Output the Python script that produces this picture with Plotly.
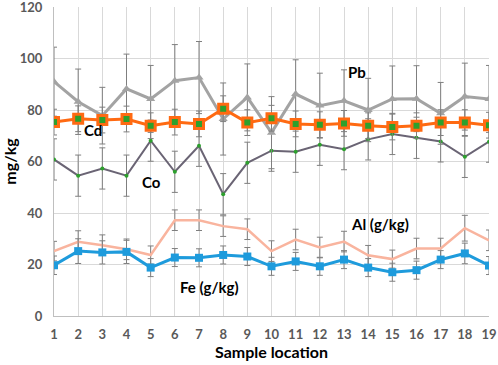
import plotly.graph_objects as go

locations = list(range(1, 20))
pb = [91.0, 83.2, 77.8, 88.2, 84.3, 91.4, 92.6, 76.5, 84.9, 71.2, 86.2, 81.7, 83.6, 80.0, 84.3, 84.4, 78.7, 85.2, 84.3]
pb_err = [13.4, 12.7, 11.0, 13.5, 13.0, 14.0, 14.0, 14.0, 13.0, 14.0, 13.3, 12.6, 12.0, 12.3, 12.8, 12.8, 12.0, 13.0, 13.0]
cd = [75.3, 76.6, 76.1, 76.5, 73.9, 75.3, 74.6, 80.5, 75.1, 76.8, 74.6, 74.3, 74.8, 73.9, 73.4, 73.9, 75.1, 75.1, 74.1]
cd_err = [5.0] * 19
co = [60.8, 54.5, 57.3, 54.5, 68.1, 56.0, 66.1, 47.3, 59.5, 64.2, 63.8, 66.5, 64.8, 68.6, 70.7, 69.2, 67.8, 61.8, 67.7]
co_err = [8.0] * 19
al = [25.2, 28.8, 27.5, 25.9, 23.7, 37.2, 37.2, 34.9, 33.7, 25.2, 29.7, 26.6, 28.9, 23.6, 22.1, 26.2, 26.2, 34.1, 29.4]
al_err = [3.8, 4.3, 4.0, 4.0, 3.5, 4.0, 4.0, 4.0, 4.0, 4.0, 4.0, 4.0, 4.0, 3.8, 3.5, 4.0, 4.0, 5.0, 4.0]
fe = [19.7, 25.2, 24.7, 24.9, 18.8, 22.7, 22.6, 23.7, 23.1, 19.3, 21.2, 19.3, 21.9, 18.8, 17.0, 17.8, 21.9, 24.3, 19.6]
fe_err = [3.6, 4.8, 4.5, 4.5, 3.5, 3.5, 3.5, 3.5, 3.5, 3.5, 3.5, 3.5, 3.5, 3.5, 3.5, 3.5, 3.5, 4.0, 3.5]
y_ticks = [0, 20, 40, 60, 80, 100, 120]

ERR = dict(type="data", visible=True, color="#7F7F7F", thickness=1, width=3)
FONT = "Lato, Open Sans, Liberation Sans, sans-serif"

fig = go.Figure()
fig.add_trace(go.Scatter(x=locations, y=al, mode="lines",
                         line=dict(color="#F9B49E", width=2.5),
                         error_y=dict(array=al_err, **ERR)))
fig.add_trace(go.Scatter(x=locations, y=fe, mode="lines+markers",
                         line=dict(color="#1E9BDC", width=3),
                         marker=dict(symbol="square", size=8, color="#1E9BDC"),
                         error_y=dict(array=fe_err, **ERR)))
fig.add_trace(go.Scatter(x=locations, y=co, mode="lines+markers",
                         line=dict(color="#6A6474", width=2),
                         marker=dict(symbol="circle", size=4, color="#2DA02D"),
                         error_y=dict(array=co_err, **ERR)))
fig.add_trace(go.Scatter(x=locations, y=pb, mode="lines+markers",
                         line=dict(color="#A3A3A3", width=3),
                         marker=dict(symbol="triangle-up", size=8, color="#A3A3A3"),
                         error_y=dict(array=pb_err, **ERR)))
fig.add_trace(go.Scatter(x=locations, y=cd, mode="lines+markers",
                         line=dict(color="#FF6A12", width=3),
                         marker=dict(symbol="square", size=9, color="#2DA02D",
                                     line=dict(color="#FF6A12", width=3)),
                         error_y=dict(array=cd_err, **ERR)))

lab_font = dict(family=FONT, size=15, color="black")
for txt, x, y in [("Pb", 13.55, 94.9), ("Cd", 2.6, 72.2), ("Co", 5.05, 51.9),
                  ("Al (g/kg)", 14.5, 35.9), ("Fe (g/kg)", 7.42, 11.3)]:
    fig.add_annotation(x=x, y=y, text=f"<b>{txt}</b>", showarrow=False, font=lab_font)

fig.update_layout(
    width=498, height=365,
    margin=dict(l=54, r=9, t=7, b=49),
    paper_bgcolor="white", plot_bgcolor="white",
    showlegend=False,
    font=dict(family=FONT),
)
fig.update_xaxes(range=[1, 19], tickmode="array", tickvals=locations,
                 ticktext=[f"<b>{v}</b>" for v in locations],
                 tickfont=dict(size=13, color="#595959"),
                 showgrid=True, gridcolor="#D9D9D9", gridwidth=1,
                 showline=True, linecolor="#BFBFBF", linewidth=1, zeroline=False,
                 ticks="", ticklabelstandoff=6, ticklabeloverflow="allow", automargin=False,
                 title=dict(text="<b>Sample location</b>", font=dict(size=16, color="black"), standoff=2))
fig.update_yaxes(range=[0, 120], tickmode="array", tickvals=y_ticks,
                 ticktext=[f"<b>{v}</b>" for v in y_ticks],
                 tickfont=dict(size=13, color="#595959"),
                 showgrid=True, gridcolor="#D9D9D9", gridwidth=1,
                 showline=True, linecolor="#BFBFBF", linewidth=1, zeroline=False,
                 ticks="", ticklabelstandoff=8, ticklabeloverflow="allow", automargin=False,
                 title=dict(text="<b>mg/kg</b>", font=dict(size=16, color="black"), standoff=6))

fig.write_html("out.html", config={"displayModeBar": False},
               post_script="document.body.style.margin='0';document.body.style.padding='0';")
